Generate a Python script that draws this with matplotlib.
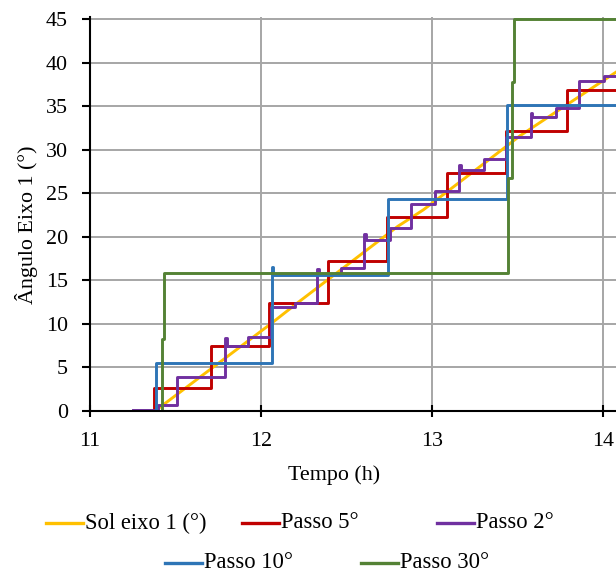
import matplotlib
matplotlib.use('Agg')
import matplotlib.pyplot as plt
from matplotlib.lines import Line2D

plt.rcParams['font.family'] = ['Liberation Serif', 'DejaVu Serif']

# ---- data ----
sun_t = [11.38, 12.05, 12.21, 12.80, 12.95, 13.33, 13.515, 14.08]
sun_deg = [0.0, 9.9, 12.36, 21.2, 23.1, 28.8, 31.6, 38.95]

p5_t = [11.30, 11.376, 11.708, 12.049, 12.394, 12.735, 13.086, 13.43, 13.79, 14.08]
p5_deg = [0.0, 2.6, 7.5, 12.4, 17.25, 22.3, 27.3, 32.1, 36.8, 36.8]

p2_t = [11.25, 11.40, 11.507, 11.79, 11.80, 11.926, 12.06, 12.20, 12.33, 12.34,
        12.47, 12.605, 12.615, 12.754, 12.88, 13.02, 13.158, 13.168, 13.304,
        13.43, 13.577, 13.587, 13.723, 13.861, 14.008, 14.08]
p2_deg = [0.15, 0.7, 3.9, 8.4, 7.5, 8.45, 11.9, 12.4, 16.3, 15.7,
          16.4, 20.3, 19.6, 21.0, 23.8, 25.25, 28.2, 27.7, 28.9,
          31.5, 34.2, 33.7, 34.8, 37.9, 38.45, 38.45]

p10_t = [11.30, 11.384, 12.062, 12.072, 12.74, 13.44, 14.08]
p10_deg = [0.0, 5.5, 16.5, 15.6, 24.3, 35.15, 35.15]

p30_t = [11.35, 11.419, 11.433, 13.444, 13.468, 13.48, 14.08]
p30_deg = [0.0, 8.3, 15.8, 26.7, 37.8, 45.0, 45.0]

labels = ['Sol eixo 1 (°)', 'Passo 5°', 'Passo 2°', 'Passo 10°', 'Passo 30°']
colors = ['#FFC000', '#C00000', '#7030A0', '#2E75B6', '#548235']

x_ticks = [11, 12, 13, 14]
y_ticks = [0, 5, 10, 15, 20, 25, 30, 35, 40, 45]

# ---- figure ----
W, H = 616, 574
fig = plt.figure(figsize=(W / 100, H / 100), dpi=100)
px_per_deg = 8.711
ymax = 45.25
ax_h = ymax * px_per_deg
ax = fig.add_axes([90 / W, (H - 411) / H, 1 - 90 / W, ax_h / H])

lw = 2.1
ax.plot(sun_t, sun_deg, color=colors[0], lw=lw, zorder=3)
ax.plot(p5_t, p5_deg, color=colors[1], lw=lw, drawstyle='steps-post', zorder=4)
ax.plot(p2_t, p2_deg, color=colors[2], lw=lw, drawstyle='steps-post', zorder=5)
ax.plot(p10_t, p10_deg, color=colors[3], lw=lw, drawstyle='steps-post', zorder=6)
ax.plot(p30_t, p30_deg, color=colors[4], lw=lw, drawstyle='steps-post', zorder=7)

ax.set_xlim(11, 11 + (W - 90) / 171)
ax.set_ylim(0, ymax)
ax.set_xticks(x_ticks)
ax.set_yticks(y_ticks)
ax.grid(True, color='#A6A6A6', lw=1.4, zorder=1)
ax.set_axisbelow(True)

for s in ['top', 'right']:
    ax.spines[s].set_visible(False)
for s in ['left', 'bottom']:
    ax.spines[s].set_color('black')
    ax.spines[s].set_linewidth(1.5)
    ax.spines[s].set_zorder(8)

fs = 15.8
ax.tick_params(axis='y', direction='out', length=6, width=1.5, pad=10, labelsize=fs)
ax.tick_params(axis='x', direction='inout', length=8, width=1.5, pad=11, labelsize=fs)

ax.set_xlabel('Tempo (h)', fontsize=fs)
ax.xaxis.set_label_coords((334.5 - 90) / (W - 90), -(465 - 411) / ax_h)
ax.set_ylabel('Ângulo Eixo 1 (°)', fontsize=fs)
ax.yaxis.set_label_coords((38 - 90) / (W - 90), (411 - 225) / ax_h)

# ---- legend (two centred rows, drawn manually) ----
entries = [
    (0, 46, 523), (1, 242, 523), (2, 437, 523),
    (3, 165, 563), (4, 361, 563),
]
for idx, x0, yp in entries:
    yf = (H - yp) / H
    fig.add_artist(Line2D([x0 / W, (x0 + 37) / W], [yf, yf], color=colors[idx],
                          lw=2.4, transform=fig.transFigure))
    fig.text((x0 + 39) / W, yf, labels[idx], fontsize=16.3, va='center', ha='left')

fig.savefig('out.png', dpi=100)
